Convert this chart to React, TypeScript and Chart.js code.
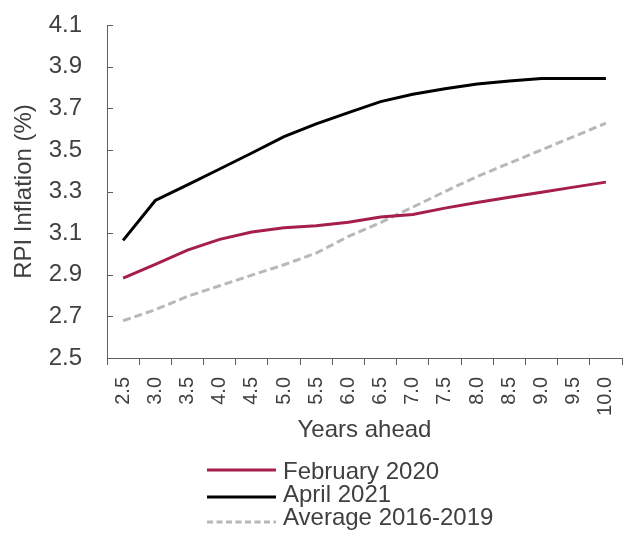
import React, { useEffect, useRef } from "react";
import { Chart, registerables } from "chart.js";

Chart.register(...registerables);

const years = ["2.5", "3.0", "3.5", "4.0", "4.5", "5.0", "5.5", "6.0", "6.5", "7.0", "7.5", "8.0", "8.5", "9.0", "9.5", "10.0"];
const feb2020 = [2.884, 2.95, 3.018, 3.07, 3.105, 3.126, 3.135, 3.152, 3.177, 3.19, 3.22, 3.247, 3.272, 3.296, 3.321, 3.345];
const apr2021 = [3.065, 3.257, 3.332, 3.408, 3.485, 3.564, 3.625, 3.679, 3.732, 3.767, 3.794, 3.817, 3.831, 3.843, 3.843, 3.843];
const avg1619 = [2.679, 2.732, 2.796, 2.847, 2.898, 2.948, 3.004, 3.084, 3.151, 3.225, 3.3, 3.372, 3.436, 3.5, 3.564, 3.628];

const seriesNames = ["February 2020", "April 2021", "Average 2016-2019"];
const yTitle = "RPI Inflation (%)";
const xTitle = "Years ahead";

const FONT = "'Liberation Sans', Arial, Helvetica, sans-serif";
const TEXT = "#404040";
const AXIS = "#5f5f5f";
const RED = "#a61e4d";
const BLACK = "#000000";
const GREY = "#b8b8b8";

const legendRows = [
  { textY: 472, lineY: 470 },
  { textY: 495, lineY: 497 },
  { textY: 518, lineY: 522 },
];

const customPlugin = {
  id: "customDecor",
  afterDraw(chart: any) {
    const { ctx } = chart;
    const ys = chart.scales.y;
    ctx.save();
    // inner y tick marks
    ctx.strokeStyle = AXIS;
    ctx.lineWidth = 1;
    ys.ticks.forEach((_t: any, i: number) => {
      const py = Math.round(ys.getPixelForTick(i)) + 0.5;
      ctx.beginPath();
      ctx.moveTo(ys.right, py);
      ctx.lineTo(ys.right + 6, py);
      ctx.stroke();
    });
    // legend
    const x0 = 207;
    const x1 = 276;
    const tx = 283;
    chart.data.datasets.forEach((ds: any, i: number) => {
      const row = legendRows[i];
      ctx.strokeStyle = ds.borderColor;
      ctx.lineWidth = 3;
      ctx.setLineDash(ds.borderDash && ds.borderDash.length ? [6, 3.5] : []);
      ctx.beginPath();
      ctx.moveTo(x0, row.lineY);
      ctx.lineTo(x1, row.lineY);
      ctx.stroke();
      ctx.setLineDash([]);
      ctx.fillStyle = TEXT;
      ctx.font = `24px ${FONT}`;
      ctx.textAlign = "left";
      ctx.textBaseline = "middle";
      ctx.fillText(ds.label, tx, row.textY);
    });
    ctx.restore();
  },
};

export default function App() {
  const ref = useRef<HTMLCanvasElement | null>(null);
  useEffect(() => {
    if (!ref.current) return;
    Chart.defaults.font.family = FONT;
    Chart.defaults.color = TEXT;
    const chart = new Chart(ref.current, {
      type: "line",
      data: {
        labels: years,
        datasets: [
          { label: seriesNames[0], data: feb2020, borderColor: RED, backgroundColor: RED, borderWidth: 3, pointRadius: 0, tension: 0, borderDash: [] },
          { label: seriesNames[1], data: apr2021, borderColor: BLACK, backgroundColor: BLACK, borderWidth: 3, pointRadius: 0, tension: 0, borderDash: [] },
          { label: seriesNames[2], data: avg1619, borderColor: GREY, backgroundColor: GREY, borderWidth: 3, pointRadius: 0, tension: 0, borderDash: [8, 4] },
        ],
      },
      options: {
        animation: false,
        responsive: false,
        devicePixelRatio: 1,
        layout: { padding: { left: 0, top: 25, right: 2, bottom: 0 } },
        plugins: { legend: { display: false }, tooltip: { enabled: false } },
        scales: {
          x: {
            type: "category",
            offset: true,
            grid: { display: true, offset: true, drawOnChartArea: false, drawTicks: true, tickLength: 7, color: AXIS },
            border: { display: true, color: AXIS, width: 1 },
            ticks: { autoSkip: false, minRotation: 90, maxRotation: 90, padding: 12, color: TEXT, font: { size: 20, family: FONT } },
            title: { display: true, text: xTitle, color: TEXT, font: { size: 24, family: FONT }, padding: { top: 0, bottom: 91 } },
            afterFit(scale: any) {
              scale.height = 178;
              scale.paddingLeft = 0;
              scale.paddingRight = 0;
            },
          },
          y: {
            min: 2.5,
            max: 4.1,
            ticks: { stepSize: 0.2, padding: 25, color: TEXT, font: { size: 24, family: FONT }, callback: (v: any) => Number(v).toFixed(1) },
            grid: { display: true, drawOnChartArea: false, drawTicks: false, color: AXIS },
            border: { display: true, color: AXIS, width: 1 },
            title: { display: true, text: yTitle, color: TEXT, font: { size: 24, family: FONT }, padding: { top: 10, bottom: 0 } },
            afterFit(scale: any) {
              scale.width = 107;
              scale.paddingTop = 0;
              scale.paddingBottom = 0;
            },
          },
        },
      },
      plugins: [customPlugin],
    });
    return () => chart.destroy();
  }, []);
  return (
    <div style={{ position: "absolute", left: 0, top: 0, width: 624, height: 536 }}>
      <canvas ref={ref} width={624} height={536} />
    </div>
  );
}
